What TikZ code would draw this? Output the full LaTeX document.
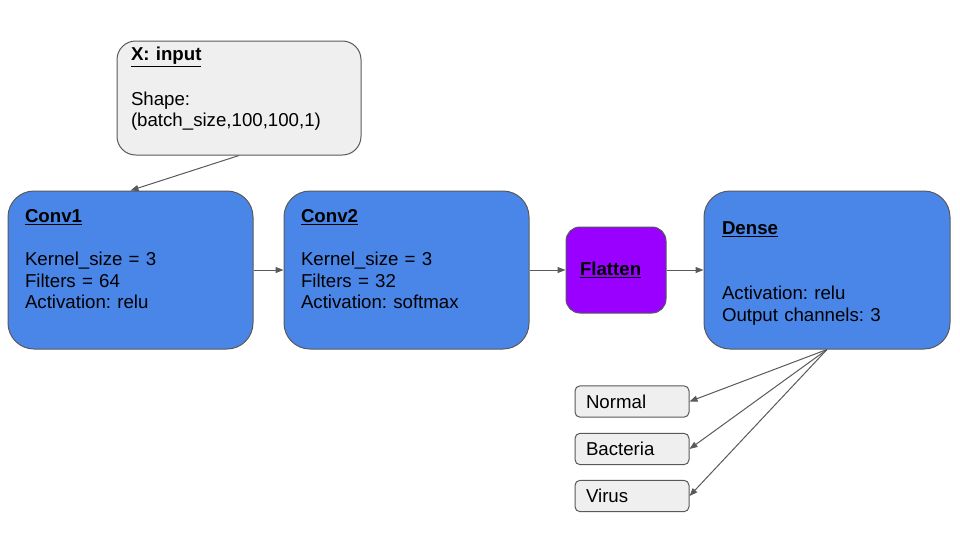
\documentclass[tikz,border=0pt]{standalone}
\usepackage{fontspec}
\setmainfont{Liberation Sans}
\frenchspacing
\usetikzlibrary{arrows.meta}
\pgfdeclarelayer{edgelayer}
\pgfdeclarelayer{nodelayer}
\pgfsetlayers{edgelayer,nodelayer,main}
\definecolor{layerblue}{HTML}{4A86E8}
\definecolor{flatpurple}{HTML}{9900FF}
\definecolor{boxgrey}{HTML}{EFEFEF}
\definecolor{edgegrey}{HTML}{595959}
\newcommand{\topline}{\rule{0pt}{14.4pt}}
\tikzstyle{box} = [draw=edgegrey, line width=0.75pt, align=left, inner ysep=0pt, font=\fontsize{14}{16.3}\selectfont]
\tikzstyle{inputbox} = [box, fill=boxgrey, rounded corners=14pt, minimum width=183pt, minimum height=85.5pt, text width=162pt, inner xsep=10.5pt]
\tikzstyle{convbox} = [box, fill=layerblue, rounded corners=19.5pt, minimum width=183.75pt, minimum height=118.5pt, text width=158.25pt, inner xsep=12.75pt]
\tikzstyle{flatbox} = [box, fill=flatpurple, rounded corners=10.5pt, minimum width=75pt, minimum height=64.5pt, text width=54pt, inner xsep=10.5pt]
\tikzstyle{classbox} = [box, fill=boxgrey, rounded corners=3.75pt, minimum width=85.5pt, minimum height=23.5pt, text width=69pt, inner xsep=8.25pt]
\tikzstyle{flow} = [draw=edgegrey, line width=0.75pt, -{Triangle[length=6pt,width=4.5pt]}]

\begin{document}
\begin{tikzpicture}[x=0.75pt, y=-0.75pt]
	\useasboundingbox (0, 0) rectangle (960, 540);
	\begin{pgfonlayer}{nodelayer}
		\node [style=inputbox] (0) at (239, 98) {\topline\textbf{\underline{X: input}}\\ \strut\\ Shape:\\ (batch\_size,100,100,1)\\ \strut};
		\node [style=convbox] (1) at (130.5, 270) {\topline\textbf{\underline{Conv1}}\\ \strut\\ Kernel\_size = 3\\ Filters = 64\\ Activation: relu\\ \strut};
		\node [style=convbox] (2) at (406.5, 270) {\topline\textbf{\underline{Conv2}}\\ \strut\\ Kernel\_size = 3\\ Filters = 32\\ Activation: softmax\\ \strut};
		\node [style=flatbox] (3) at (616, 270) {\textbf{\underline{Flatten}}};
		\node [style=convbox, minimum width=184.5pt, text width=157.5pt, inner xsep=13.5pt] (4) at (827, 270) {\topline\textbf{\underline{Dense}}\\ \strut\\ \strut\\ Activation: relu\\ Output channels: 3};
		\node [style=classbox] (5) at (632, 401.5) {Normal};
		\node [style=classbox] (6) at (632, 449) {Bacteria};
		\node [style=classbox] (7) at (632, 496) {Virus};
	\end{pgfonlayer}
	\begin{pgfonlayer}{edgelayer}
		\draw [style=flow] (0.south) to (1.north);
		\draw [style=flow] (1.east) to (2.west);
		\draw [style=flow] (2.east) to (3.west);
		\draw [style=flow] (3.east) to (4.west);
		\draw [style=flow] (4.south) to (5.east);
		\draw [style=flow] (4.south) to (6.east);
		\draw [style=flow] (4.south) to (7.east);
	\end{pgfonlayer}
\end{tikzpicture}
\end{document}
